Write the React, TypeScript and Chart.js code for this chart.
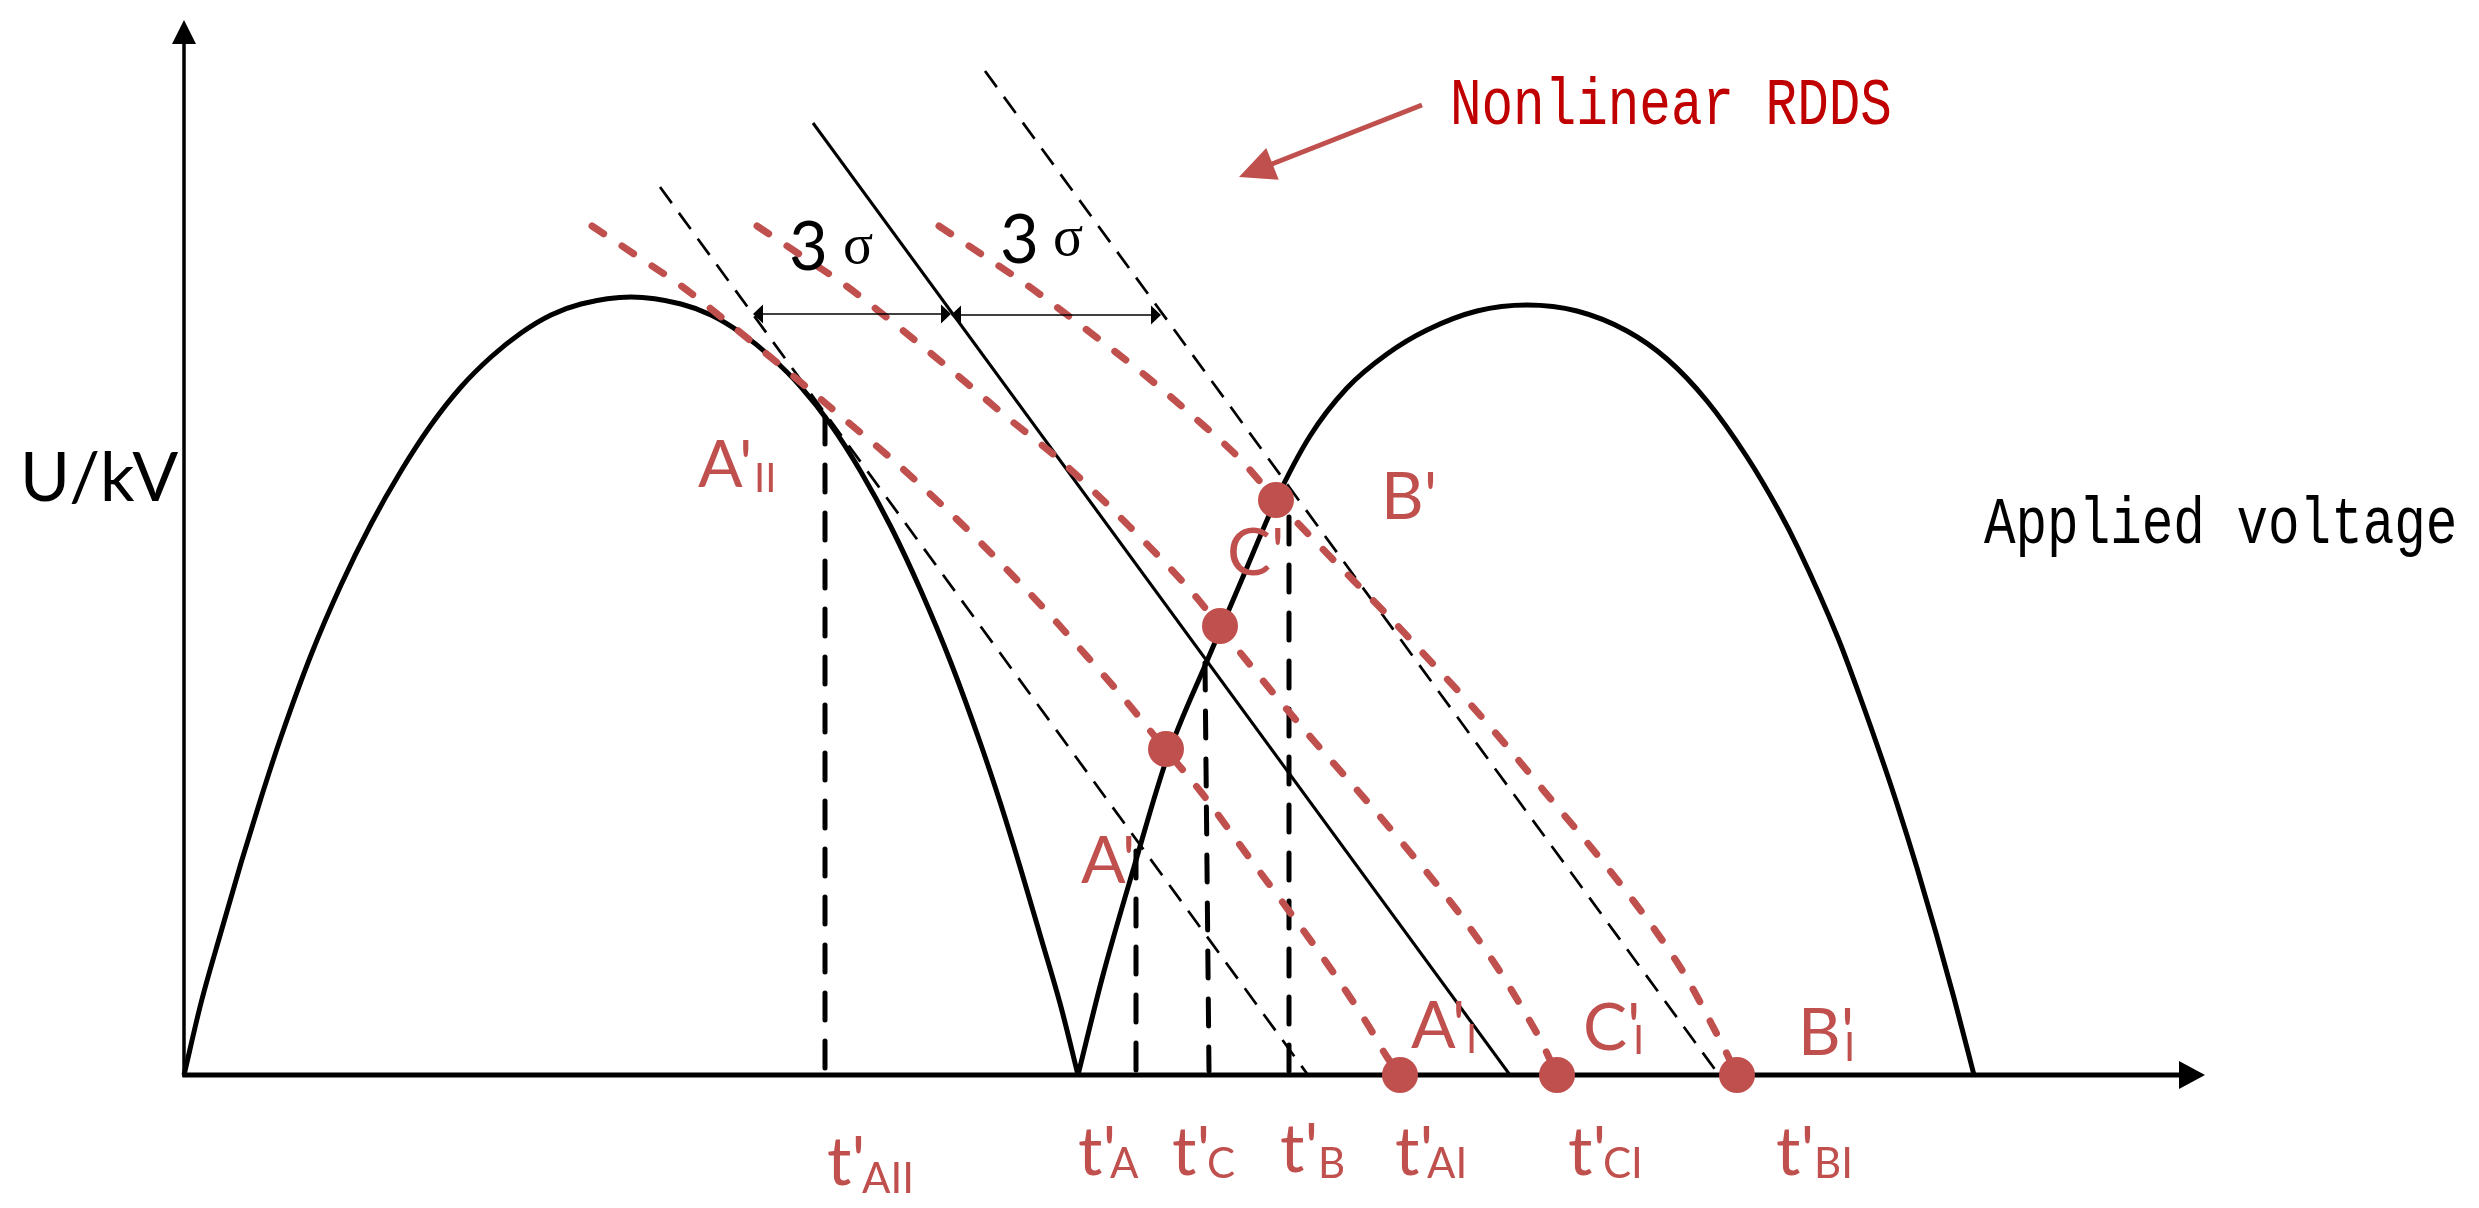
import React, { useEffect, useRef } from "react";
import { Chart, registerables } from "chart.js";

Chart.register(...registerables);

const RED = "#C0504D";
const DARK_RED = "#C00000";

// t: time (arbitrary units, origin at the axes corner); U: voltage (arbitrary kV units)
const T_MAX = 2021;
const U_MAX = 1055;

const leftArch = [
  [0, 0], [17, 72], [37, 143], [57, 212], [77, 277], [97, 338], [127, 420], [157, 490],
  [187, 551], [217, 604], [247, 650], [277, 688], [307, 718], [337, 742], [367, 760],
  [397, 771], [447, 778], [497, 771], [527, 760], [557, 742], [587, 718], [617, 688],
  [647, 650], [677, 603], [707, 548], [737, 484], [767, 412], [797, 330], [817, 270],
  [837, 205], [857, 137], [877, 68], [894, 0],
];
const rightArch = [
  [894, 0], [919, 100], [950, 208], [984, 320], [1023, 414], [1038, 449], [1064, 510],
  [1092, 575], [1126, 639], [1163, 687], [1203, 721], [1243, 745], [1293, 764], [1343, 770],
  [1393, 764], [1443, 744], [1483, 716], [1523, 674], [1563, 618], [1595, 564], [1614, 527],
  [1654, 437], [1675, 381], [1700, 310], [1713, 271], [1733, 207], [1752, 142], [1770, 77],
  [1790, 0],
];
// nonlinear RDDS curves through A, C, B
const curveA = [
  [408, 849], [456, 817], [496, 790], [557, 742], [608, 700], [659, 657], [710, 614],
  [761, 567], [796, 533], [866, 460], [892, 431], [942, 374], [981, 326], [1017, 283],
  [1067, 215], [1108, 160], [1149, 103], [1184, 50], [1203, 18], [1216, 0],
];
const curveC = [
  [573, 849], [621, 817], [661, 790], [722, 742], [773, 700], [824, 657], [877, 614],
  [942, 552], [1013, 477], [1035, 449], [1085, 387], [1130, 334], [1174, 284], [1220, 230],
  [1272, 166], [1313, 108], [1340, 64], [1358, 32], [1373, 0],
];
const curveB = [
  [755, 849], [806, 815], [843, 790], [870, 770], [916, 735], [962, 699], [1011, 657],
  [1055, 617], [1092, 575], [1130, 535], [1169, 495], [1211, 452], [1250, 410], [1287, 370],
  [1321, 331], [1360, 284], [1419, 213], [1471, 145], [1501, 100], [1525, 56], [1541, 25],
  [1553, 0],
];
// linear criterion lines (mean and ±3σ)
const meanLine = [[629, 952], [1326, 0]];
const lowLine = [[476, 888], [1124, 0]];
const highLine = [[801, 1004], [1535, 0]];
// vertical drop lines
const dropAII = [[641, 658], [641, 4]];
const dropA = [[952, 224], [952, 4]];
const dropC = [[1021, 412], [1025, 4]];
const dropB = [[1105, 558], [1105, 4]];
// marked points A', C', B', A'I, C'I, B'I
const keyPoints = [[982, 326], [1036, 449], [1092, 575], [1216, 0], [1373, 0], [1553, 0]];

// 3σ spans: [t start, t end, U]
const sigmaSpans = [[569, 767, 761], [767, 977, 760]];
const sigmaLabels = [
  { x: 605, y: 805, sx: 659, sy: 812 },
  { x: 816, y: 812, sx: 869, sy: 820 },
];
const pointLabels = [
  { text: "A'", sub: "II", x: 514, y: 588, sx: 570, sy: 583 },
  { text: "B'", sub: "", x: 1197, y: 556, sx: 0, sy: 0 },
  { text: "C'", sub: "", x: 1043, y: 500, sx: 0, sy: 0 },
  { text: "A'", sub: "", x: 897, y: 192, sx: 0, sy: 0 },
  { text: "A'", sub: "I", x: 1227, y: 27, sx: 1282, sy: 22 },
  { text: "C'", sub: "I", x: 1399, y: 25, sx: 1449, sy: 21 },
  { text: "B'", sub: "I", x: 1614, y: 20, sx: 1660, sy: 14 },
];
const timeLabels = [
  { text: "t'", sub: "AII", x: 643, y: -110, sx: 678, sy: -118 },
  { text: "t'", sub: "A", x: 894, y: -100, sx: 926, sy: -103 },
  { text: "t'", sub: "C", x: 988, y: -100, sx: 1023, sy: -103 },
  { text: "t'", sub: "B", x: 1096, y: -97, sx: 1134, sy: -103 },
  { text: "t'", sub: "AI", x: 1211, y: -100, sx: 1243, sy: -103 },
  { text: "t'", sub: "CI", x: 1384, y: -100, sx: 1419, sy: -103 },
  { text: "t'", sub: "BI", x: 1592, y: -100, sx: 1630, sy: -103 },
];
const rddsArrow = { tail: [1238, 970], tip: [1055, 898] };
const textItems = [
  { text: "U/kV", x: -164, y: 574 },
  { text: "Nonlinear RDDS", x: 1266, y: 951 },
  { text: "Applied voltage", x: 1800, y: 532 },
];

const xy = (a: number[][]) => a.map(([x, y]) => ({ x, y }));

function curve(data: number[][], color: string, width: number, dash: number[], order: number, smooth = true, cap = "butt") {
  return {
    data: xy(data),
    showLine: true,
    borderColor: color,
    backgroundColor: color,
    borderWidth: width,
    borderDash: dash,
    borderCapStyle: cap,
    borderJoinStyle: "round",
    pointRadius: 0,
    pointHoverRadius: 0,
    fill: false,
    clip: false,
    order,
    tension: 0,
    cubicInterpolationMode: smooth ? "monotone" : "default",
  };
}

function head(ctx: any, tx: number, ty: number, dx: number, dy: number, len: number, half: number) {
  const l = Math.hypot(dx, dy);
  const ux = dx / l, uy = dy / l;
  const bx = tx - ux * len, by = ty - uy * len;
  ctx.beginPath();
  ctx.moveTo(tx, ty);
  ctx.lineTo(bx - uy * half, by + ux * half);
  ctx.lineTo(bx + uy * half, by - ux * half);
  ctx.closePath();
  ctx.fill();
}

function txt(ctx: any, s: string, x: number, y: number, font: string, color: string, sy = 1) {
  ctx.save();
  ctx.font = font;
  ctx.fillStyle = color;
  ctx.textAlign = "left";
  ctx.textBaseline = "alphabetic";
  ctx.translate(x, y);
  ctx.scale(1, sy);
  ctx.fillText(s, 0, 0);
  ctx.restore();
}

const overlay = {
  id: "overlay",
  beforeDatasetsDraw(chart: any) {
    const { ctx } = chart;
    const X = chart.scales.x, Y = chart.scales.y;
    const x0 = X.getPixelForValue(0), y0 = Y.getPixelForValue(0);
    const yTop = Y.getPixelForValue(U_MAX), xEnd = X.getPixelForValue(T_MAX);
    ctx.save();
    ctx.strokeStyle = "#000";
    ctx.fillStyle = "#000";
    ctx.lineWidth = 3.5;
    ctx.beginPath();
    ctx.moveTo(x0, y0 + 2);
    ctx.lineTo(x0, yTop + 22);
    ctx.stroke();
    head(ctx, x0, yTop, 0, -1, 24, 12);
    ctx.lineWidth = 5;
    ctx.beginPath();
    ctx.moveTo(x0 - 1.5, y0);
    ctx.lineTo(xEnd - 24, y0);
    ctx.stroke();
    head(ctx, xEnd, y0, 1, 0, 26, 14);
    ctx.restore();
  },
  afterDatasetsDraw(chart: any) {
    const { ctx } = chart;
    const X = chart.scales.x, Y = chart.scales.y;
    const px = (v: number) => X.getPixelForValue(v);
    const py = (v: number) => Y.getPixelForValue(v);
    ctx.save();
    // 3σ spans
    ctx.strokeStyle = "#000";
    ctx.fillStyle = "#000";
    ctx.lineWidth = 1.5;
    for (const [a, b, u] of sigmaSpans) {
      const xa = px(a), xb = px(b), yy = py(u);
      ctx.beginPath();
      ctx.moveTo(xa + 5, yy);
      ctx.lineTo(xb - 5, yy);
      ctx.stroke();
      head(ctx, xa, yy, -1, 0, 10, 9.5);
      head(ctx, xb, yy, 1, 0, 10, 9.5);
    }
    for (const s of sigmaLabels) {
      txt(ctx, "3", px(s.x), py(s.y), "67px Lato", "#000");
      txt(ctx, "σ", px(s.sx), py(s.sy), "56px 'Liberation Serif'", "#000");
    }
    // RDDS arrow
    const tx0 = px(rddsArrow.tail[0]), ty0 = py(rddsArrow.tail[1]);
    const tx1 = px(rddsArrow.tip[0]), ty1 = py(rddsArrow.tip[1]);
    const dx = tx1 - tx0, dy = ty1 - ty0, l = Math.hypot(dx, dy);
    ctx.strokeStyle = RED;
    ctx.fillStyle = RED;
    ctx.lineWidth = 5;
    ctx.beginPath();
    ctx.moveTo(tx0, ty0);
    ctx.lineTo(tx1 - (dx / l) * 30, ty1 - (dy / l) * 30);
    ctx.stroke();
    head(ctx, tx1, ty1, dx, dy, 36, 17);
    // labels
    for (const p of pointLabels) {
      txt(ctx, p.text, px(p.x), py(p.y), "66px Lato", RED);
      if (p.sub) txt(ctx, p.sub, px(p.sx), py(p.sy), "40px Lato", RED);
    }
    for (const p of timeLabels) {
      txt(ctx, p.text, px(p.x), py(p.y), "68px Lato", RED);
      txt(ctx, p.sub, px(p.sx), py(p.sy), "42px Lato", RED);
    }
    txt(ctx, textItems[0].text, px(textItems[0].x), py(textItems[0].y), "68px Lato", "#000");
    txt(ctx, textItems[1].text, px(textItems[1].x), py(textItems[1].y), "52.6px 'Liberation Mono'", DARK_RED, 1.25);
    txt(ctx, textItems[2].text, px(textItems[2].x), py(textItems[2].y), "52.6px 'Liberation Mono'", "#000", 1.25);
    ctx.restore();
  },
};

export default function App() {
  const ref = useRef<HTMLCanvasElement>(null);
  useEffect(() => {
    const canvas = ref.current;
    if (!canvas) return;
    const chart = new Chart(canvas, {
      type: "scatter",
      data: {
        datasets: [
          {
            data: xy(keyPoints),
            showLine: false,
            pointRadius: 18,
            pointHoverRadius: 18,
            pointBackgroundColor: RED,
            pointBorderColor: RED,
            pointBorderWidth: 0,
            clip: false,
            order: 0,
          },
          curve(curveA, RED, 7, [14, 22], 1, true, "round"),
          curve(curveC, RED, 7, [14, 22], 1, true, "round"),
          curve(curveB, RED, 7, [14, 22], 1, true, "round"),
          curve(meanLine, "#000", 3, [], 2, false),
          curve(lowLine, "#000", 2.7, [20, 12], 2, false),
          curve(highLine, "#000", 2.7, [20, 12], 2, false),
          curve(dropAII, "#000", 5, [27, 21], 3, false, "round"),
          curve(dropA, "#000", 5, [27, 21], 3, false, "round"),
          curve(dropC, "#000", 5, [27, 21], 3, false, "round"),
          curve(dropB, "#000", 5, [27, 21], 3, false, "round"),
          curve(leftArch, "#000", 5, [], 4),
          curve(rightArch, "#000", 5, [], 4),
        ] as any,
      },
      options: {
        responsive: false,
        animation: false,
        devicePixelRatio: 1,
        events: [],
        layout: { padding: { left: 184, right: 274, top: 20, bottom: 133 } },
        plugins: { legend: { display: false }, tooltip: { enabled: false } },
        scales: {
          x: { type: "linear", min: 0, max: T_MAX, display: false },
          y: { type: "linear", min: 0, max: U_MAX, display: false },
        },
      } as any,
      plugins: [overlay as any],
    });
    const fonts = (document as any).fonts;
    if (fonts && fonts.load) {
      Promise.all([
        fonts.load("66px Lato"),
        fonts.load("56px 'Liberation Serif'"),
        fonts.load("52px 'Liberation Mono'"),
      ]).then(() => chart.draw()).catch(() => {});
    }
    return () => chart.destroy();
  }, []);
  return (
    <div style={{ position: "fixed", left: 0, top: 0, width: 2479, height: 1208, background: "#fff" }}>
      <canvas ref={ref} width={2479} height={1208} style={{ display: "block", width: 2479, height: 1208 }} />
    </div>
  );
}
